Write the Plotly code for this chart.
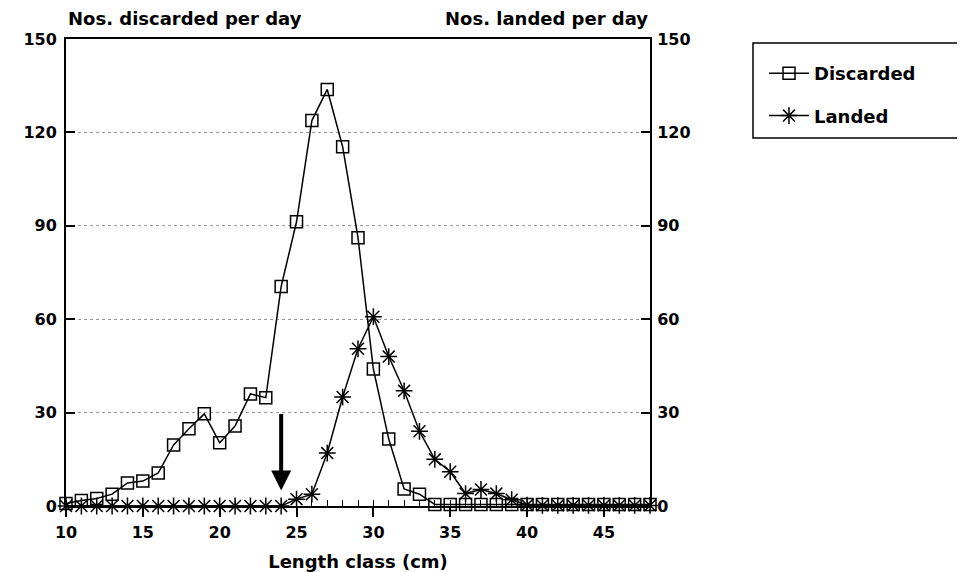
import plotly.graph_objects as go

length_class = list(range(10, 49))
discarded = [0.8, 1.8, 2.4, 3.8, 7.4, 8.0, 10.6, 19.6, 24.8, 29.6,
             20.3, 25.7, 36.0, 34.8, 70.5, 91.3, 123.8, 133.8, 115.4, 86.2,
             44.0, 21.5, 5.5, 3.8, 0.5, 0.5, 0.5, 0.5, 0.5, 0.5,
             0.5, 0.5, 0.5, 0.5, 0.5, 0.5, 0.5, 0.5, 0.5]
landed = [0, 0, 0, 0, 0, 0, 0, 0, 0, 0,
          0, 0, 0, 0, 0, 2.2, 3.8, 17.0, 35.0, 50.5,
          60.8, 48.0, 37.0, 24.0, 15.0, 11.0, 4.0, 5.3, 4.0, 2.0,
          0.3, 0.2, 0.2, 0.2, 0.2, 0.2, 0.2, 0.2, 0.2]
x_ticks = [10, 15, 20, 25, 30, 35, 40, 45]
y_ticks = [0, 30, 60, 90, 120, 150]

FONT = "DejaVu Sans"
W, H = 965, 572
L, R, T, B = 58, 323, 31, 74
PW, PH = W - L - R, H - T - B

def px(xp):
    return (xp - L) / PW

def py(yp):
    return (H - B - yp) / PH

fig = go.Figure()
fig.add_trace(go.Scatter(
    x=length_class, y=discarded, name="Discarded", mode="lines+markers",
    line=dict(color="black", width=1.5),
    marker=dict(symbol="square-open", size=12, color="black", line=dict(width=1.5)),
    cliponaxis=False, legendgroup="d"))
fig.add_trace(go.Scatter(
    x=length_class, y=landed, name="Landed", mode="lines+markers", yaxis="y2",
    line=dict(color="black", width=1.5),
    marker=dict(symbol="asterisk-open", size=14, color="black", line=dict(width=1.5)),
    cliponaxis=False, legendgroup="l"))

axis_font = dict(family=FONT, size=16, color="black", weight="bold")

fig.update_layout(
    width=W, height=H,
    margin=dict(l=L, r=R, t=T, b=B, autoexpand=False),
    paper_bgcolor="white", plot_bgcolor="white",
    font=dict(family=FONT, color="black"),
    xaxis=dict(
        range=[10, 48], tickvals=x_ticks, ticktext=[str(v) for v in x_ticks],
        ticks="outside", ticklen=9, tickwidth=1.5, tickcolor="black",
        minor=dict(dtick=1, tick0=10, ticks="inside", ticklen=6, tickwidth=1, tickcolor="black"),
        showline=True, linecolor="black", linewidth=2, mirror=True,
        showgrid=False, zeroline=False, tickfont=axis_font, ticklabelstandoff=2,
        title=dict(text="Length class (cm)", font=dict(family=FONT, size=18, color="black", weight="bold"), standoff=14),
    ),
    yaxis=dict(
        range=[0, 150], tickvals=y_ticks, ticks="inside", ticklen=9, tickwidth=1.5, tickcolor="black",
        showline=True, linecolor="black", linewidth=2,
        showgrid=True, gridcolor="#999999", griddash="dot", gridwidth=1,
        zeroline=False, tickfont=axis_font, ticklabelstandoff=4,
    ),
    yaxis2=dict(
        range=[0, 150], tickvals=y_ticks, ticks="inside", ticklen=9, tickwidth=1.5, tickcolor="black",
        overlaying="y", side="right", anchor="x",
        showline=True, linecolor="black", linewidth=2,
        showgrid=False, zeroline=False, tickfont=axis_font, ticklabelstandoff=2,
    ),
    showlegend=True,
    legend=dict(
        x=px(756), y=py(47), xanchor="left", yanchor="top",
        bgcolor="rgba(0,0,0,0)", borderwidth=0,
        font=dict(family=FONT, size=18, color="black", weight="bold"),
        tracegroupgap=16, itemwidth=40,
    ),
    shapes=[dict(type="rect", xref="paper", yref="paper",
                 x0=px(745), x1=px(953), y0=py(130), y1=py(35),
                 line=dict(color="black", width=1.5))],
    annotations=[
        dict(text="Nos. discarded per day", xref="paper", yref="paper",
             x=px(58), y=py(11), xanchor="left", yanchor="middle", showarrow=False,
             font=dict(family=FONT, size=18, color="black", weight="bold")),
        dict(text="Nos. landed per day", xref="paper", yref="paper",
             x=px(642), y=py(11), xanchor="right", yanchor="middle", showarrow=False,
             font=dict(family=FONT, size=18, color="black", weight="bold")),
        dict(x=24, y=5, ax=24, ay=30, xref="x", yref="y", axref="x", ayref="y",
             text="", showarrow=True, arrowhead=2, arrowsize=1, arrowwidth=4, arrowcolor="black"),
    ],
)

fig.write_html("out.html")
